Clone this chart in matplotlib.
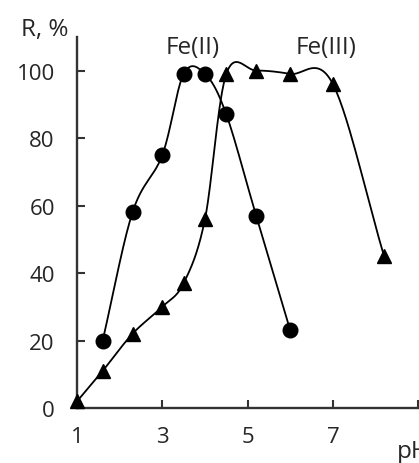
import matplotlib
matplotlib.use("Agg")
import matplotlib.pyplot as plt
import numpy as np

# Fe(II) - circles
ph_fe2 = [1.6, 2.3, 3.0, 3.5, 4.0, 4.5, 5.2, 6.0]
r_fe2 = [20, 58, 75, 99, 99, 87, 57, 23]

# Fe(III) - triangles
ph_fe3 = [1.0, 1.6, 2.3, 3.0, 3.5, 4.0, 4.5, 5.2, 6.0, 7.0, 8.2]
r_fe3 = [2, 11, 22, 30, 37, 56, 99, 100, 99, 96, 45]

x_ticks = [1, 3, 5, 7, 9]
x_tick_labels = ["1", "3", "5", "7", ""]
y_ticks = [0, 20, 40, 60, 80, 100]

FONT = "Open Sans"
TEXT_COLOR = "#262626"


def smooth(xs, ys, n=30):
    # Catmull-Rom through the points, similar to Excel's smoothed line
    p = np.column_stack([xs, ys]).astype(float)
    p = np.vstack([p[0] - (p[1] - p[0]), p, p[-1] + (p[-1] - p[-2])])
    out = []
    t = np.linspace(0, 1, n)
    for i in range(1, len(p) - 2):
        p0, p1, p2, p3 = p[i - 1], p[i], p[i + 1], p[i + 2]
        seg = 0.5 * (
            (2 * p1)
            + np.outer(t, -p0 + p2)
            + np.outer(t ** 2, 2 * p0 - 5 * p1 + 4 * p2 - p3)
            + np.outer(t ** 3, -p0 + 3 * p1 - 3 * p2 + p3)
        )
        out.append(seg)
    out = np.vstack(out)
    return out[:, 0], out[:, 1]


fig = plt.figure(figsize=(4.19, 4.64), dpi=100)
ax = fig.add_axes([0.184, 0.1185, 0.814, 0.80])

for xs, ys, marker in [(ph_fe2, r_fe2, "o"), (ph_fe3, r_fe3, "^")]:
    sx, sy = smooth(xs, ys)
    ax.plot(sx, sy, color="black", lw=1.3, clip_on=False)
    ax.plot(xs, ys, linestyle="none", marker=marker, color="black",
            markersize=10.5, clip_on=False, zorder=3)

ax.set_xlim(1, 9)
ax.set_ylim(0, 110)
ax.set_xticks(x_ticks)
ax.set_xticklabels(x_tick_labels)
ax.set_yticks(y_ticks)

for side in ["top", "right"]:
    ax.spines[side].set_visible(False)
for side in ["left", "bottom"]:
    ax.spines[side].set_linewidth(1.7)
    ax.spines[side].set_color("#333333")

ax.tick_params(direction="in", length=6, width=1.5, color="#333333",
               labelsize=16, labelcolor=TEXT_COLOR)
ax.tick_params(axis="y", pad=16)
ax.tick_params(axis="x", pad=13)
for lbl in ax.get_xticklabels() + ax.get_yticklabels():
    lbl.set_fontfamily(FONT)

ax.text(3.7, 107, "Fe(II)", fontsize=17.5, family=FONT, color=TEXT_COLOR,
        ha="center", va="center")
ax.text(6.85, 107, "Fe(III)", fontsize=17.5, family=FONT, color=TEXT_COLOR,
        ha="center", va="center")

fig.text(0.05, 0.935, "R, %", fontsize=17.5, family=FONT, color=TEXT_COLOR,
         ha="left", va="center")
ax.text(0.938, -0.116, "pH", transform=ax.transAxes, fontsize=17.5,
        family=FONT, color=TEXT_COLOR, ha="left", va="center", clip_on=False)

fig.savefig("out.png", dpi=100)
